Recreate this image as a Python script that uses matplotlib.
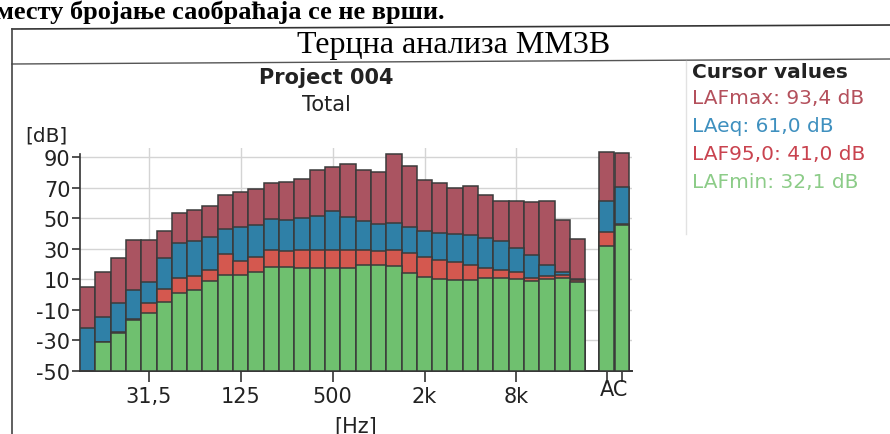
import matplotlib
matplotlib.use("Agg")
from matplotlib import pyplot as plt
from matplotlib.lines import Line2D
from matplotlib.transforms import blended_transform_factory

plt.rcParams['axes.unicode_minus'] = False

# third-octave bands 12,5 Hz .. 20 kHz, then A and C totals
bands = ['12,5', '16', '20', '25', '31,5', '40', '50', '63', '80', '100', '125', '160',
         '200', '250', '315', '400', '500', '630', '800', '1k', '1,25k', '1,6k', '2k',
         '2,5k', '3,15k', '4k', '5k', '6,3k', '8k', '10k', '12,5k', '16k', '20k']
laf_max = [5.1, 14.8, 23.8, 35.8, 35.7, 41.4, 53.2, 55.2, 57.9, 65.3, 67.4, 69.3,
           73.0, 74.0, 76.0, 81.7, 83.3, 85.7, 81.9, 80.6, 92.0, 84.0, 75.2,
           73.3, 69.5, 70.8, 65.5, 61.5, 61.3, 60.5, 61.0, 49.0, 36.4]
laeq = [-22.0, -14.6, -5.3, 3.2, 8.5, 24.0, 34.0, 35.2, 37.7, 43.0, 44.4, 45.8,
        49.7, 49.1, 50.1, 51.4, 54.8, 51.1, 48.0, 46.5, 47.0, 44.2, 41.9,
        40.6, 39.8, 38.8, 36.9, 35.0, 30.8, 26.1, 19.5, 14.6, 10.0]
laf95 = [-55.0, -31.0, -24.6, -16.0, -5.2, 3.8, 11.2, 12.2, 16.0, 26.7, 22.0, 24.6,
         29.4, 28.6, 29.1, 29.4, 29.3, 29.1, 29.0, 28.8, 29.3, 27.0, 24.7,
         22.8, 21.1, 19.5, 17.6, 16.3, 14.5, 10.6, 12.0, 12.9, 9.5]
laf_min = [-55.0, -31.3, -24.9, -16.4, -11.7, -4.9, 1.0, 3.0, 8.8, 13.0, 12.6, 14.9,
           18.4, 17.8, 17.7, 17.5, 17.4, 17.2, 19.2, 19.5, 19.0, 14.1, 11.4,
           10.5, 9.3, 9.8, 10.7, 11.0, 10.4, 8.9, 10.5, 10.7, 8.4]

totals = ['A', 'C']
tot_max = [93.4, 92.8]
tot_eq = [61.0, 70.7]
tot_95 = [41.0, 46.2]
tot_min = [32.1, 45.8]

tick_bands = ['31,5', '125', '500', '2k', '8k']
y_ticks = [90, 70, 50, 30, 10, -10, -30, -50]

cursor_lines = ['LAFmax: 93,4 dB', 'LAeq: 61,0 dB', 'LAF95,0: 41,0 dB', 'LAFmin: 32,1 dB']

c_max = '#aa5461'
c_eq = '#2f80a7'
c_95 = '#d4584f'
c_min = '#6fc06f'
edge = '#3a3a3a'
txt_cols = ['#b4505c', '#3f90bf', '#c9434f', '#8ccc88']

W, H = 890, 435
fig = plt.figure(figsize=(W / 100, H / 100), dpi=100)


def fx(x):
    return x / W


def fy(y):
    return 1 - y / H


# page frame lines of the scanned document
fig.add_artist(Line2D([fx(12), fx(890)], [fy(30), fy(26)], color='#333333', lw=1.2))
fig.add_artist(Line2D([fx(12), fx(890)], [fy(65), fy(60)], color='#555555', lw=1.0))
fig.add_artist(Line2D([fx(12), fx(12)], [fy(30), fy(435)], color='#444444', lw=1.2))
fig.add_artist(Line2D([fx(686), fx(686)], [fy(62), fy(235)], color='#e2e2e2', lw=1.0))

fig.text(fx(-4), fy(12), 'месту бројање саобраћаја се не врши.', fontsize=19,
         fontweight='bold', family='Liberation Serif', va='center', ha='left')
fig.text(fx(454), fy(46), 'Терцна анализа ММ3В', fontsize=23,
         family='Liberation Serif', va='center', ha='center')

fig.text(fx(326), fy(78), 'Project 004', fontsize=15, fontweight='bold',
         va='center', ha='center', color='#222222')
fig.text(fx(326), fy(105), 'Total', fontsize=15, va='center', ha='center', color='#222222')

fig.text(fx(692), fy(72), 'Cursor values', fontsize=14.5, fontweight='bold',
         va='center', ha='left', color='#222222')
for i, (s, c) in enumerate(zip(cursor_lines, txt_cols)):
    fig.text(fx(692), fy(99 + i * 28), s, fontsize=14.5, va='center', ha='left', color=c)

fig.text(fx(46), fy(136), '[dB]', fontsize=14.5, va='center', ha='center', color='#222222')
fig.text(fx(356), fy(427), '[Hz]', fontsize=15, va='center', ha='center', color='#222222')

ax = fig.add_axes([fx(80), fy(372), (632 - 80) / W, (372 - 149) / H])

x = list(range(len(bands)))
xt = [33.9, 34.9]
for vals, tv, col in [(laf_max, tot_max, c_max), (laeq, tot_eq, c_eq),
                      (laf95, tot_95, c_95), (laf_min, tot_min, c_min)]:
    ax.bar(x, [v + 50 for v in vals], bottom=-50, width=1.0, color=col,
           edgecolor=edge, linewidth=1.1, zorder=3)
    ax.bar(xt, [v + 50 for v in tv], bottom=-50, width=0.95, color=col,
           edgecolor=edge, linewidth=1.1, zorder=3, clip_on=False)

ax.set_xlim(-0.5, 35.55)
ax.set_ylim(-50, 96)

major = [bands.index(b) for b in tick_bands] + xt
ax.set_xticks(major)
ax.set_xticklabels(tick_bands + ['', ''], fontsize=15, color='#222222')
ax.set_yticks(y_ticks)
ax.set_yticklabels([str(v) for v in y_ticks], fontsize=15, color='#222222')
ax.tick_params(axis='x', length=8, width=1.2, color='#333333', pad=3)
ax.tick_params(axis='y', length=6, width=1.2, color='#333333', pad=1)
ax.text(34.4, -0.035, 'AC', transform=blended_transform_factory(ax.transData, ax.transAxes),
        fontsize=15, ha='center', va='top', color='#222222')

for v in y_ticks:
    ax.axhline(v, color='#d4d4d4', lw=1.0, zorder=1)
for p in major[:5]:
    ax.axvline(p, color='#d4d4d4', lw=1.0, zorder=1)

for s in ['top', 'right']:
    ax.spines[s].set_visible(False)
ax.spines['left'].set_color('#333333')
ax.spines['left'].set_linewidth(1.2)
ax.spines['left'].set_bounds(-50, 92)
ax.spines['bottom'].set_color('#333333')
ax.spines['bottom'].set_linewidth(1.4)

fig.savefig('out.png', dpi=100)
